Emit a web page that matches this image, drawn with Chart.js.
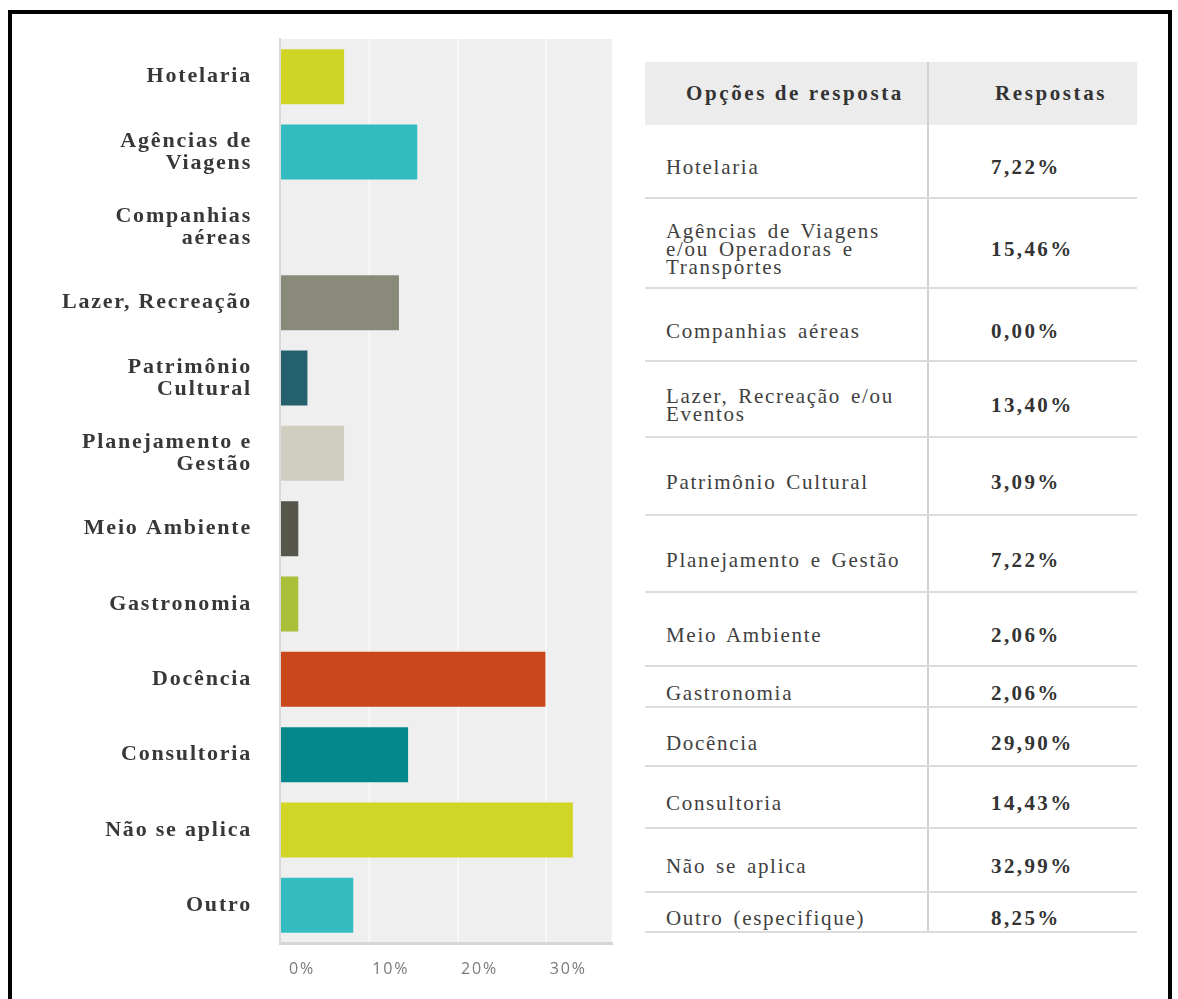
<!DOCTYPE html>
<html>
<head>
<meta charset="utf-8">
<script src="https://cdn.jsdelivr.net/npm/chart.js@4.4.1/dist/chart.umd.min.js"></script>
<style>
    html, body { margin: 0; padding: 0; background: #fff; width: 1178px; height: 999px; overflow: hidden; }
    #moldura { position: absolute; left: 8px; top: 10px; width: 1164px; height: 1100px; border: 4px solid #000; box-sizing: border-box; }
    #caixaGrafico { position: absolute; left: 14px; top: 8px; width: 600px; height: 991px; }
    #tabela { position: absolute; left: 645px; top: 62px; width: 492px; border-collapse: collapse; table-layout: fixed;
              font-family: "Liberation Serif", "Times New Roman", serif; color: #404040; }
    #tabela th { background: #ececec; height: 63px; font-size: 21px; font-weight: bold; text-align: left;
                 letter-spacing: 2.6px; color: #333; padding: 0; }
    #tabela th.c1 { padding-left: 41px; border-right: 2px solid #d2d2d2; }
    #tabela th.c2 { padding-left: 66px; }
    #tabela td { font-size: 21px; letter-spacing: 1.7px; word-spacing: 3px; line-height: 18px; vertical-align: middle;
                 padding: 12px 0 0 0; border-bottom: 2px solid #dcdcdc; white-space: pre-line; }
    #tabela td.c1 { padding-left: 21px; border-right: 2px solid #d2d2d2; }
    #tabela td.c2 { padding-left: 62px; font-weight: bold; font-size: 21px; letter-spacing: 2.4px; color: #333; }
</style>
</head>
<body>
<div id="moldura"></div>
<div id="caixaGrafico"><canvas id="graficoAreas"></canvas></div>
<table id="tabela">
    <colgroup><col style="width:283px"><col style="width:209px"></colgroup>
    <thead><tr><th class="c1">Opções de resposta</th><th class="c2">Respostas</th></tr></thead>
    <tbody id="linhasTabela"></tbody>
</table>
<script>
// Dados do gráfico:
const categorias = [
    "Hotelaria",
    ["Agências de", "Viagens"],
    ["Companhias", "aéreas"],
    "Lazer, Recreação",
    ["Patrimônio", "Cultural"],
    ["Planejamento e", "Gestão"],
    "Meio Ambiente",
    "Gastronomia",
    "Docência",
    "Consultoria",
    "Não se aplica",
    "Outro"
];
const opcoesResposta = [
    "Hotelaria",
    "Agências de Viagens\ne/ou Operadoras e\nTransportes",
    "Companhias aéreas",
    "Lazer, Recreação e/ou\nEventos",
    "Patrimônio Cultural",
    "Planejamento e Gestão",
    "Meio Ambiente",
    "Gastronomia",
    "Docência",
    "Consultoria",
    "Não se aplica",
    "Outro (especifique)"
];
const respostas = [7.22, 15.46, 0.00, 13.40, 3.09, 7.22, 2.06, 2.06, 29.90, 14.43, 32.99, 8.25];
const ticksEixo = [0, 10, 20, 30];

const coresBarras = ["#d0d424", "#33bcc0", "#33bcc0", "#8a8a7b", "#25606f", "#d0cec0",
                     "#56564a", "#aac03a", "#c9471b", "#03878a", "#d1d626", "#34bcc0"];
const alturaLinhas = [73, 90, 73, 76, 78, 77, 74, 41, 59, 62, 64, 40];

// Formata percentual no padrão brasileiro:
function formatarPct(valor)
{
    return valor.toFixed(2).replace(".", ",") + "%";
}

// Monta a tabela de respostas:
function montarTabela()
{
    const corpo = document.getElementById("linhasTabela");
    for (let i = 0; i < opcoesResposta.length; i++)
    {
        const tr = document.createElement("tr");
        tr.style.height = alturaLinhas[i] + "px";
        const td1 = document.createElement("td");
        td1.className = "c1";
        td1.textContent = opcoesResposta[i];
        const td2 = document.createElement("td");
        td2.className = "c2";
        td2.textContent = formatarPct(respostas[i]);
        tr.appendChild(td1);
        tr.appendChild(td2);
        corpo.appendChild(tr);
    }
}

// Fundo cinza da área do gráfico:
const fundoPlot = {
    id: "fundoPlot",
    beforeDraw(chart)
    {
        const ctx = chart.ctx;
        const a = chart.chartArea;
        ctx.save();
        ctx.fillStyle = "#efefef";
        ctx.fillRect(a.left, a.top, a.right - a.left, a.bottom - a.top);
        ctx.restore();
        ctx.letterSpacing = "1.8px";
    }
};

function desenharGrafico()
{
    const ctx = document.getElementById("graficoAreas").getContext("2d");
    new Chart(ctx, {
        type: "bar",
        data: {
            labels: categorias,
            datasets: [{
                data: respostas,
                backgroundColor: coresBarras,
                borderWidth: 0,
                barPercentage: 0.73,
                categoryPercentage: 1
            }]
        },
        options: {
            indexAxis: "y",
            responsive: true,
            maintainAspectRatio: false,
            animation: false,
            layout: { padding: { top: 0, right: 2, left: 0, bottom: 0 } },
            plugins: {
                legend: { display: false },
                tooltip: { enabled: false }
            },
            scales: {
                x: {
                    min: 0,
                    max: 37.4,
                    ticks: {
                        stepSize: 10,
                        labelOffset: 22,
                        padding: 17,
                        color: "#7a7a7a",
                        font: { family: "Open Sans", size: 16 },
                        callback: function (v) { return v + "%"; }
                    },
                    afterBuildTicks: function (eixo)
                    {
                        eixo.ticks = eixo.ticks.filter(function (t) { return ticksEixo.includes(t.value); });
                    },
                    afterFit: function (eixo) { eixo.height = 56; },
                    grid: {
                        drawTicks: false,
                        lineWidth: 2,
                        color: function (c) { return c.tick && c.tick.value === 0 ? "rgba(0,0,0,0)" : "#f6f6f6"; }
                    },
                    border: { display: true, color: "#d6d6d6", width: 3 }
                },
                y: {
                    ticks: {
                        padding: 20,
                        color: "#383838",
                        font: { family: "Liberation Serif", size: 22, weight: "bold", lineHeight: 1.0 }
                    },
                    afterFit: function (eixo) { eixo.width = 266; },
                    grid: { display: false },
                    border: { display: true, color: "#d8d8d8", width: 2 }
                }
            }
        },
        plugins: [fundoPlot]
    });
}

montarTabela();
desenharGrafico();
</script>
</body>
</html>
